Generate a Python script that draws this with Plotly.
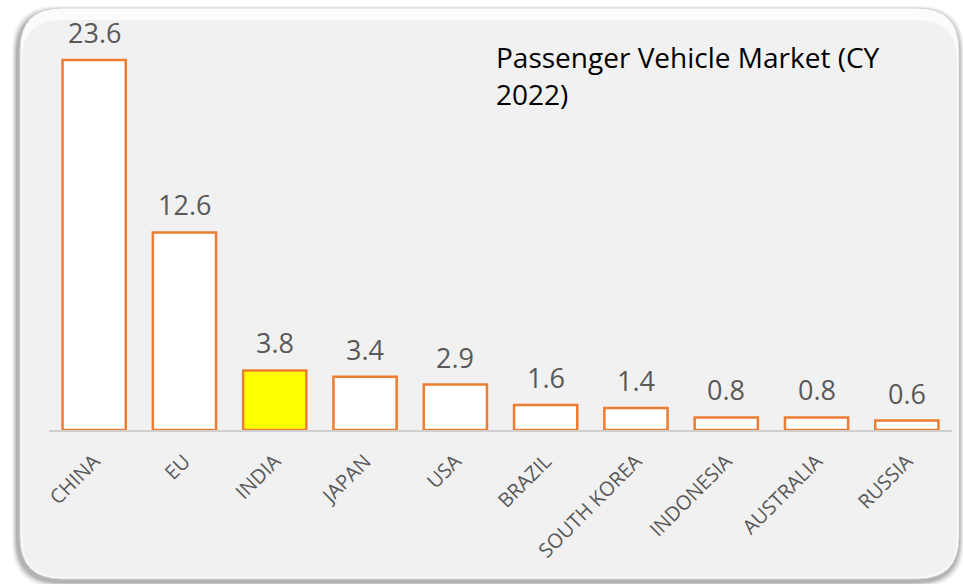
import plotly.graph_objects as go

# Passenger vehicle sales by market, calendar year 2022 (million units)
markets = ["CHINA", "EU", "INDIA", "JAPAN", "USA", "BRAZIL",
           "SOUTH KOREA", "INDONESIA", "AUSTRALIA", "RUSSIA"]
sales = [23.6, 12.6, 3.8, 3.4, 2.9, 1.6, 1.4, 0.8, 0.8, 0.6]
highlight = "INDIA"
title_lines = ["Passenger Vehicle Market (CY", "2022)"]

W, H = 963, 584
ML, MR, MT, MB = 49, 11, 38, 154
PW, PH = W - ML - MR, H - MT - MB

FONT = "'Open Sans', Lato, sans-serif"
ORANGE = "#ed7d31"
GREY_TXT = "#595959"
PANEL = "#f1f1f1"


def px(x):
    return (x - ML) / PW


def py(y):
    return (H - MB - y) / PH


def rounded_rect(x0, y0, x1, y1, r):
    pts = [
        f"M {px(x0 + r)},{py(y0)}",
        f"L {px(x1 - r)},{py(y0)}",
        f"Q {px(x1)},{py(y0)} {px(x1)},{py(y0 + r)}",
        f"L {px(x1)},{py(y1 - r)}",
        f"Q {px(x1)},{py(y1)} {px(x1 - r)},{py(y1)}",
        f"L {px(x0 + r)},{py(y1)}",
        f"Q {px(x0)},{py(y1)} {px(x0)},{py(y1 - r)}",
        f"L {px(x0)},{py(y0 + r)}",
        f"Q {px(x0)},{py(y0)} {px(x0 + r)},{py(y0)}",
        "Z",
    ]
    return " ".join(pts)


shapes = []
# soft drop shadow around the panel
for i, op in enumerate([0.04, 0.05, 0.06, 0.08, 0.10]):
    g = 5 - i
    shapes.append(dict(type="path", xref="paper", yref="paper", layer="below",
                       path=rounded_rect(20 - g - 3, 9 - g + 2, 961 + g - 2, 580 + g + 2, 44),
                       fillcolor=f"rgba(0,0,0,{op})", line=dict(width=0)))
# panel
shapes.append(dict(type="path", xref="paper", yref="paper", layer="below",
                   path=rounded_rect(20, 8, 959, 579, 42),
                   fillcolor="#fbfbfb", line=dict(color="#d6d6d6", width=1)))
shapes.append(dict(type="path", xref="paper", yref="paper", layer="below",
                   path=rounded_rect(22, 20, 957, 577, 40),
                   fillcolor=PANEL, line=dict(width=0)))

fill = ["#ffff00" if m == highlight else "#ffffff" for m in markets]

fig = go.Figure(go.Bar(
    x=markets, y=sales,
    marker=dict(color=fill, line=dict(color=ORANGE, width=2.5)),
    width=0.7,
    hoverinfo="x+y",
))

annotations = [
    dict(x=m, y=v, xref="x", yref="y", text=f"{v:.1f}", showarrow=False,
         yanchor="bottom", yshift=7,
         font=dict(family=FONT, size=27, color=GREY_TXT))
    for m, v in zip(markets, sales)
]
for i, line in enumerate(title_lines):
    annotations.append(dict(
        x=px(494), y=py(36 + 37 * i), xref="paper", yref="paper",
        xanchor="left", yanchor="top", align="left", showarrow=False,
        text=line, font=dict(family=FONT, size=28, color="#000000"),
    ))

fig.update_layout(
    width=W, height=H,
    margin=dict(l=ML, r=MR, t=MT, b=MB, pad=0),
    paper_bgcolor="#ffffff",
    plot_bgcolor="rgba(0,0,0,0)",
    showlegend=False,
    shapes=shapes,
    annotations=annotations,
    xaxis=dict(
        type="category", range=[-0.5, len(markets) - 0.5],
        showgrid=False, zeroline=False,
        showline=True, linecolor="#cfcfcf", linewidth=1.5,
        ticks="", tickangle=-45, ticklabelstandoff=10,
        tickfont=dict(family=FONT, size=20, color=GREY_TXT),
    ),
    yaxis=dict(
        range=[0, 25], visible=False, showgrid=False, zeroline=False,
    ),
)

fig.write_html("out.html")
